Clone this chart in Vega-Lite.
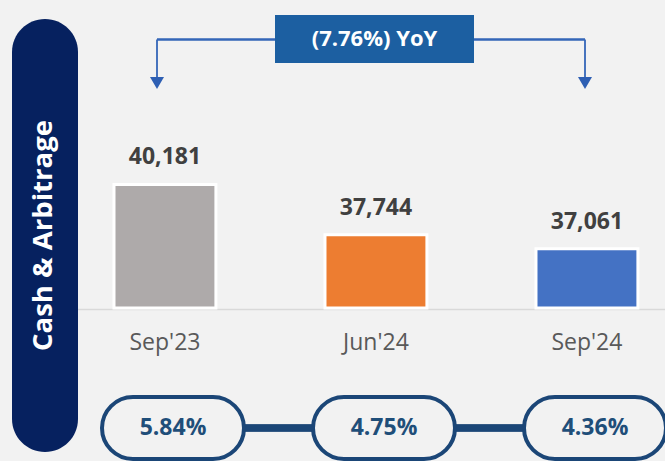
{
  "$schema": "https://vega.github.io/schema/vega-lite/v6.json",
  "width": 665,
  "height": 461,
  "autosize": {"type": "none"},
  "padding": 0,
  "background": "#f2f2f2",
  "config": {"view": {"stroke": null}, "font": "Open Sans"},
  "datasets": {
    "cash": [
      {"period": "Sep'23", "value": 40181, "rate": 0.0584},
      {"period": "Jun'24", "value": 37744, "rate": 0.0475},
      {"period": "Sep'24", "value": 37061, "rate": 0.0436}
    ]
  },
  "resolve": {"scale": {"x": "independent", "y": "independent"}},
  "layer": [
    {
      "data": {"name": "cash"},
      "layer": [
        {
          "mark": {"type": "bar", "stroke": "white", "strokeWidth": 3},
          "encoding": {
            "x": {
              "field": "period", "type": "nominal", "sort": null,
              "scale": {"type": "band", "domain": ["Sep'23", "Jun'24", "Sep'24"], "range": [61.25, 690.65], "paddingInner": 0.517, "paddingOuter": 0.25},
              "axis": {"title": null, "orient": "bottom", "offset": -152, "domainColor": "#d9d9d9", "domainWidth": 1.5, "ticks": false, "tickSize": 0, "labelFont": "Open Sans", "labelFontSize": 23, "labelColor": "#595959", "labelBaseline": "alphabetic", "labelPadding": 40, "labelAngle": 0}
            },
            "y": {"field": "value", "type": "quantitative", "scale": {"domain": [34200, 40200], "range": [308, 184], "zero": false, "nice": false}, "axis": null},
            "y2": {"datum": 34200},
            "color": {"field": "period", "type": "nominal", "scale": {"domain": ["Sep'23", "Jun'24", "Sep'24"], "range": ["#aeaaaa", "#ed7d31", "#4472c4"]}, "legend": null}
          }
        },
        {
          "mark": {"type": "text", "font": "Open Sans", "fontSize": 23, "fontWeight": "bold", "color": "#404040", "baseline": "alphabetic", "dy": -20},
          "encoding": {
            "x": {"field": "period", "type": "nominal", "sort": null, "scale": {"type": "band", "domain": ["Sep'23", "Jun'24", "Sep'24"], "range": [61.25, 690.65], "paddingInner": 0.517, "paddingOuter": 0.25}},
            "y": {"field": "value", "type": "quantitative", "scale": {"domain": [34200, 40200], "range": [308, 184], "zero": false, "nice": false}},
            "text": {"field": "value", "type": "quantitative", "format": ",d"}
          }
        }
      ]
    },
    {
      "data": {"values": [{"title": "Cash & Arbitrage"}]},
      "layer": [
        {
          "mark": {"type": "rect", "color": "#06215f", "cornerRadius": 33},
          "encoding": {
            "x": {"field": "title", "type": "nominal", "scale": {"type": "band", "range": [12, 78], "paddingInner": 0, "paddingOuter": 0}, "axis": null},
            "y": {"field": "title", "type": "nominal", "scale": {"type": "band", "range": [19, 452], "paddingInner": 0, "paddingOuter": 0}, "axis": null}
          }
        },
        {
          "mark": {"type": "text", "angle": 270, "font": "Open Sans", "fontSize": 27.5, "fontWeight": "bold", "color": "white", "baseline": "middle", "align": "center", "dy": -1},
          "encoding": {
            "x": {"field": "title", "type": "nominal", "scale": {"type": "band", "range": [12, 78], "paddingInner": 0, "paddingOuter": 0}, "axis": null},
            "y": {"field": "title", "type": "nominal", "scale": {"type": "band", "range": [19, 452], "paddingInner": 0, "paddingOuter": 0}, "axis": null},
            "text": {"field": "title", "type": "nominal"}
          }
        }
      ]
    },
    {
      "data": {"name": "cash"},
      "transform": [{"filter": "datum.period !== \"Jun'24\""}],
      "layer": [
        {
          "mark": {"type": "rule", "color": "#3566b8", "strokeWidth": 1.8},
          "encoding": {
            "x": {"field": "period", "type": "nominal", "sort": null, "scale": {"type": "point", "domain": ["Sep'23", "Sep'24"], "range": [157, 585], "padding": 0}, "axis": null},
            "y": {"datum": "line", "type": "nominal", "scale": {"type": "point", "domain": ["line", "head"], "range": [39.5, 83], "padding": 0}, "axis": null},
            "y2": {"datum": "head"}
          }
        },
        {
          "mark": {"type": "rule", "color": "#3566b8", "strokeWidth": 1.8},
          "encoding": {
            "x": {"datum": "Sep'23", "type": "nominal", "scale": {"type": "point", "domain": ["Sep'23", "Sep'24"], "range": [157, 585], "padding": 0}, "axis": null},
            "x2": {"datum": "Sep'24"},
            "y": {"datum": "line", "type": "nominal", "scale": {"type": "point", "domain": ["line", "head"], "range": [39.5, 83], "padding": 0}, "axis": null}
          }
        },
        {
          "mark": {"type": "point", "shape": "triangle-down", "filled": true, "size": 196, "color": "#2e5fb3", "opacity": 1},
          "encoding": {
            "x": {"field": "period", "type": "nominal", "sort": null, "scale": {"type": "point", "domain": ["Sep'23", "Sep'24"], "range": [157, 585], "padding": 0}, "axis": null},
            "y": {"datum": "head", "type": "nominal", "scale": {"type": "point", "domain": ["line", "head"], "range": [39.5, 83], "padding": 0}, "axis": null}
          }
        }
      ]
    },
    {
      "data": {"values": [{"label": "(7.76%) YoY"}]},
      "layer": [
        {
          "mark": {"type": "rect", "color": "#1c5fa1"},
          "encoding": {
            "x": {"field": "label", "type": "nominal", "scale": {"type": "band", "range": [275, 474], "paddingInner": 0, "paddingOuter": 0}, "axis": null},
            "y": {"field": "label", "type": "nominal", "scale": {"type": "band", "range": [15, 63], "paddingInner": 0, "paddingOuter": 0}, "axis": null}
          }
        },
        {
          "mark": {"type": "text", "font": "Open Sans", "fontSize": 22, "fontWeight": "bold", "color": "white", "baseline": "middle", "align": "center"},
          "encoding": {
            "x": {"field": "label", "type": "nominal", "scale": {"type": "band", "range": [275, 474], "paddingInner": 0, "paddingOuter": 0}, "axis": null},
            "y": {"field": "label", "type": "nominal", "scale": {"type": "band", "range": [15, 63], "paddingInner": 0, "paddingOuter": 0}, "axis": null},
            "text": {"field": "label", "type": "nominal"}
          }
        }
      ]
    },
    {
      "data": {"name": "cash"},
      "layer": [
        {
          "mark": {"type": "rule", "color": "#1b4677", "strokeWidth": 7},
          "encoding": {
            "x": {"datum": "Sep'23", "type": "nominal", "scale": {"type": "band", "domain": ["Sep'23", "Jun'24", "Sep'24"], "range": [102, 666], "paddingInner": 0.327, "paddingOuter": 0}, "axis": null},
            "x2": {"datum": "Sep'24"},
            "y": {"datum": "Yield", "type": "nominal", "scale": {"type": "band", "domain": ["Yield"], "range": [397, 459], "paddingInner": 0, "paddingOuter": 0}, "axis": null}
          }
        },
        {
          "mark": {"type": "rect", "fill": "#f2f2f2", "stroke": "#1b4677", "strokeWidth": 4, "cornerRadius": 31},
          "encoding": {
            "x": {"field": "period", "type": "nominal", "sort": null, "scale": {"type": "band", "domain": ["Sep'23", "Jun'24", "Sep'24"], "range": [102, 666], "paddingInner": 0.327, "paddingOuter": 0}, "axis": null},
            "y": {"datum": "Yield", "type": "nominal", "scale": {"type": "band", "domain": ["Yield"], "range": [397, 459], "paddingInner": 0, "paddingOuter": 0}, "axis": null}
          }
        },
        {
          "mark": {"type": "text", "font": "Open Sans", "fontSize": 23, "fontWeight": "bold", "color": "#1f4e79", "baseline": "middle", "align": "center"},
          "encoding": {
            "x": {"field": "period", "type": "nominal", "sort": null, "scale": {"type": "band", "domain": ["Sep'23", "Jun'24", "Sep'24"], "range": [102, 666], "paddingInner": 0.327, "paddingOuter": 0}, "axis": null},
            "y": {"datum": "Yield", "type": "nominal", "scale": {"type": "band", "domain": ["Yield"], "range": [397, 459], "paddingInner": 0, "paddingOuter": 0}, "axis": null},
            "text": {"field": "rate", "type": "quantitative", "format": ".2%"}
          }
        }
      ]
    }
  ]
}
